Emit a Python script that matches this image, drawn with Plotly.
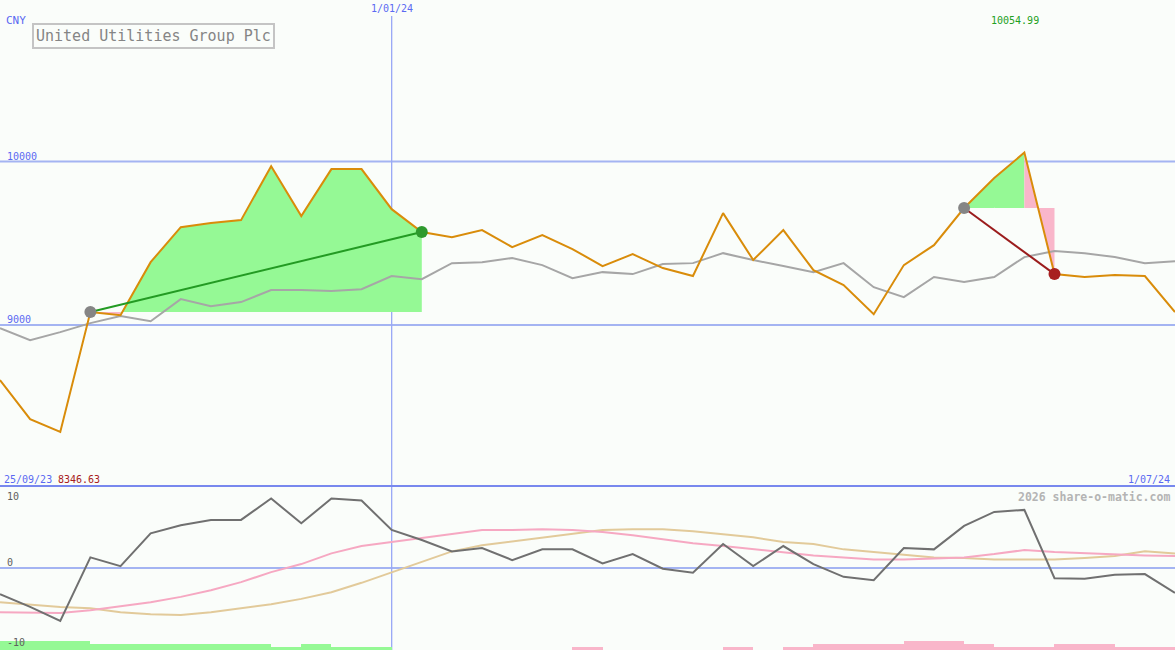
import pandas as pd
import plotly.graph_objects as go

# ---------------- data ----------------
dates = pd.date_range("2023-10-02", periods=40, freq="7D")

price = [8664, 8425, 8346.63, 9080, 9061, 9385, 9599, 9624, 9642, 9972,
         9667, 9954, 9954, 9709, 9569, 9538, 9581, 9477, 9550, 9465,
         9361, 9434, 9349, 9300, 9685, 9398, 9581, 9336, 9245, 9067,
         9367, 9489, 9716, 9899, 10054.99, 9312, 9294, 9306, 9300, 9080]

benchmark = [8982, 8908, 8957, 9012, 9055, 9024, 9159, 9116, 9141, 9214,
             9214, 9208, 9220, 9300, 9281, 9379, 9385, 9410, 9367, 9287,
             9324, 9312, 9373, 9379, 9440, 9398, 9361, 9324, 9379, 9232,
             9171, 9294, 9263, 9294, 9416, 9453, 9440, 9416, 9379, 9391]

momentum = [-3.9, -5.8, -7.9, 1.6, 0.3, 5.2, 6.4, 7.2, 7.2, 10.4,
            6.7, 10.4, 10.1, 5.7, 4.2, 2.5, 3.0, 1.2, 2.8, 2.8,
            0.7, 2.1, -0.1, -0.7, 3.6, 0.3, 3.3, 0.6, -1.3, -1.8,
            3.0, 2.8, 6.3, 8.4, 8.7, -1.5, -1.6, -1.0, -0.9, -3.7]

avg_pink = [-6.6, -6.7, -6.7, -6.3, -5.7, -5.1, -4.3, -3.3, -2.1, -0.6,
            0.6, 2.2, 3.3, 3.9, 4.5, 5.1, 5.7, 5.7, 5.8, 5.7,
            5.4, 4.9, 4.3, 3.7, 3.3, 2.8, 2.4, 1.9, 1.6, 1.3,
            1.3, 1.5, 1.6, 2.1, 2.7, 2.4, 2.2, 2.1, 1.9, 1.8]

avg_tan = [-5.1, -5.5, -5.8, -6.0, -6.6, -6.9, -7.0, -6.6, -6.0, -5.4,
           -4.6, -3.6, -2.2, -0.6, 1.0, 2.5, 3.4, 4.0, 4.6, 5.2,
           5.7, 5.8, 5.8, 5.5, 5.1, 4.6, 3.9, 3.6, 2.8, 2.4,
           2.1, 1.6, 1.5, 1.3, 1.3, 1.3, 1.5, 1.8, 2.5, 2.2]

signal_up = [3, 3, 3, 2, 2, 2, 2, 2, 2, 1, 2, 1, 1, 0, 0, 0, 0, 0, 0, 0,
             0, 0, 0, 0, 0, 0, 0, 0, 0, 0, 0, 0, 0, 0, 0, 0, 0, 0, 0, 0]
signal_down = [0, 0, 0, 0, 0, 0, 0, 0, 0, 0, 0, 0, 0, 0, 0, 0, 0, 0, 0, 1,
               0, 0, 0, 0, 1, 0, 1, 2, 2, 2, 3, 3, 2, 1, 1, 2, 2, 1, 1, 0]

trade1 = (3, 14)   # winning trade (start index, end index)
trade2 = (32, 35)  # losing trade

ticks_main = [9000, 10000]
ticks_low = [10, 0, -10]

# ---------------- styling ----------------
BG = "#FAFDFA"
GREEN_FILL = "#95F995"
PINK_FILL = "#F9B6CA"
ORANGE = "#D98C0A"
GRID = "#A4B4F2"
FONT = "DejaVu Sans Mono"
W, H = 1175, 650
SPLIT = 0.252

fig = go.Figure()

# trade fills
def trade_fill(s, e):
    base = price[s]
    gx, gy, px_, py = [], [], [], []
    for i in range(s, e):
        xs = [dates[i], dates[i + 1], dates[i + 1], dates[i], None]
        ys = [price[i], price[i + 1], base, base, None]
        if price[i + 1] >= base:
            gx += xs; gy += ys
        else:
            px_ += xs; py += ys
    for xs, ys, c in ((gx, gy, GREEN_FILL), (px_, py, PINK_FILL)):
        if xs:
            fig.add_trace(go.Scatter(x=xs, y=ys, mode="lines", fill="toself",
                                     fillcolor=c, line=dict(width=0, color=c),
                                     hoverinfo="skip", showlegend=False,
                                     yaxis="y"))

trade_fill(*trade1)
trade_fill(*trade2)

# main lines
fig.add_trace(go.Scatter(x=dates, y=benchmark, mode="lines",
                         line=dict(color="#A6A6A6", width=2), yaxis="y"))
fig.add_trace(go.Scatter(x=dates, y=price, mode="lines",
                         line=dict(color=ORANGE, width=2), yaxis="y"))

# trade lines and markers
for (s, e), lc, mc in ((trade1, "#239B23", "#2E9A2E"), (trade2, "#9B1C1C", "#A82020")):
    fig.add_trace(go.Scatter(x=[dates[s], dates[e]], y=[price[s], price[e]],
                             mode="lines", line=dict(color=lc, width=2), yaxis="y"))
    fig.add_trace(go.Scatter(x=[dates[s]], y=[price[s]], mode="markers",
                             marker=dict(color="#858585", size=12), yaxis="y"))
    fig.add_trace(go.Scatter(x=[dates[e]], y=[price[e]], mode="markers",
                             marker=dict(color=mc, size=12), yaxis="y"))

# lower panel bars
week_ms = 7 * 86400000
fig.add_trace(go.Bar(x=dates, y=signal_up, offset=0, width=week_ms,
                     marker=dict(color=GREEN_FILL, line=dict(width=0)), yaxis="y3"))
fig.add_trace(go.Bar(x=dates, y=signal_down, offset=0, width=week_ms,
                     marker=dict(color=PINK_FILL, line=dict(width=0)), yaxis="y3"))

# lower panel lines
fig.add_trace(go.Scatter(x=dates, y=avg_tan, mode="lines",
                         line=dict(color="#E2CA9A", width=2), yaxis="y2"))
fig.add_trace(go.Scatter(x=dates, y=avg_pink, mode="lines",
                         line=dict(color="#F6A8C2", width=2), yaxis="y2"))
fig.add_trace(go.Scatter(x=dates, y=momentum, mode="lines",
                         line=dict(color="#707070", width=2), yaxis="y2"))

shapes = []
for t in ticks_main:
    shapes.append(dict(type="line", xref="paper", x0=0, x1=1, yref="y", y0=t, y1=t,
                       line=dict(color=GRID, width=2), layer="below"))
shapes.append(dict(type="line", xref="paper", x0=0, x1=1, yref="y2", y0=0, y1=0,
                   line=dict(color=GRID, width=2), layer="below"))
shapes.append(dict(type="line", xref="x", x0=dates[13], x1=dates[13], yref="paper",
                   y0=0, y1=1 - 16 / H, line=dict(color="#98A8F6", width=1.3), layer="below"))
shapes.append(dict(type="line", xref="paper", x0=0, x1=1, yref="paper",
                   y0=1 - 486 / H, y1=1 - 486 / H, line=dict(color="#7888EE", width=2)))

def ann(text, x, ypix, color, size=10, xanchor="left", **kw):
    return dict(text=text, xref="paper", x=x / W, yref="paper", y=1 - ypix / H,
                xanchor=xanchor, yanchor="middle", showarrow=False,
                font=dict(family=FONT, size=size, color=color), **kw)

annotations = [
    ann("CNY", 4, 20.5, "#5A6AF2", 11),
    ann("United Utilities Group Plc", 32, 36, "#858585", 15,
        bordercolor="#C4C4C4", borderwidth=2, borderpad=2, bgcolor=BG),
    ann("1/01/24", 392, 9, "#5A6AF2", 10, xanchor="center"),
    ann("10054.99", 989, 21, "#22A022", 10),
    ann(f"{ticks_main[1]}", 5, 156, "#5A6AF2", 10),
    ann(f"{ticks_main[0]}", 5, 319, "#5A6AF2", 10),
    ann("25/09/23", 2, 479, "#5A6AF2", 10),
    ann("8346.63", 56, 479, "#A82020", 10),
    ann("1/07/24", 1172, 479, "#5A6AF2", 10, xanchor="right"),
    ann("<b>2026 share-o-matic.com</b>", 1172, 497, "#B4B4B4", 11.5, xanchor="right"),
    ann(f"{ticks_low[0]}", 5, 496.5, "#606060", 10),
    ann(f"{ticks_low[1]}", 5, 562, "#606060", 10),
    ann(f"{ticks_low[2]}", 5, 642, "#606060", 10),
]

hidden = dict(showticklabels=False, showgrid=False, zeroline=False, showline=False,
              ticks="", fixedrange=True)

fig.update_layout(
    width=W, height=H, margin=dict(l=0, r=0, t=0, b=0),
    paper_bgcolor=BG, plot_bgcolor=BG, showlegend=False,
    xaxis=dict(range=[dates[0], dates[-1]], **hidden),
    yaxis=dict(domain=[SPLIT, 1], range=[8015, 10988], **hidden),
    yaxis2=dict(domain=[0, SPLIT], range=[-12.24, 12.24], **hidden),
    yaxis3=dict(overlaying="y2", range=[0, 164 / 3], **hidden),
    bargap=0,
    shapes=shapes, annotations=annotations,
)

fig.write_html("out.html", config={"displayModeBar": False},
               post_script="document.body.style.margin='0';document.body.style.overflow='hidden';")
